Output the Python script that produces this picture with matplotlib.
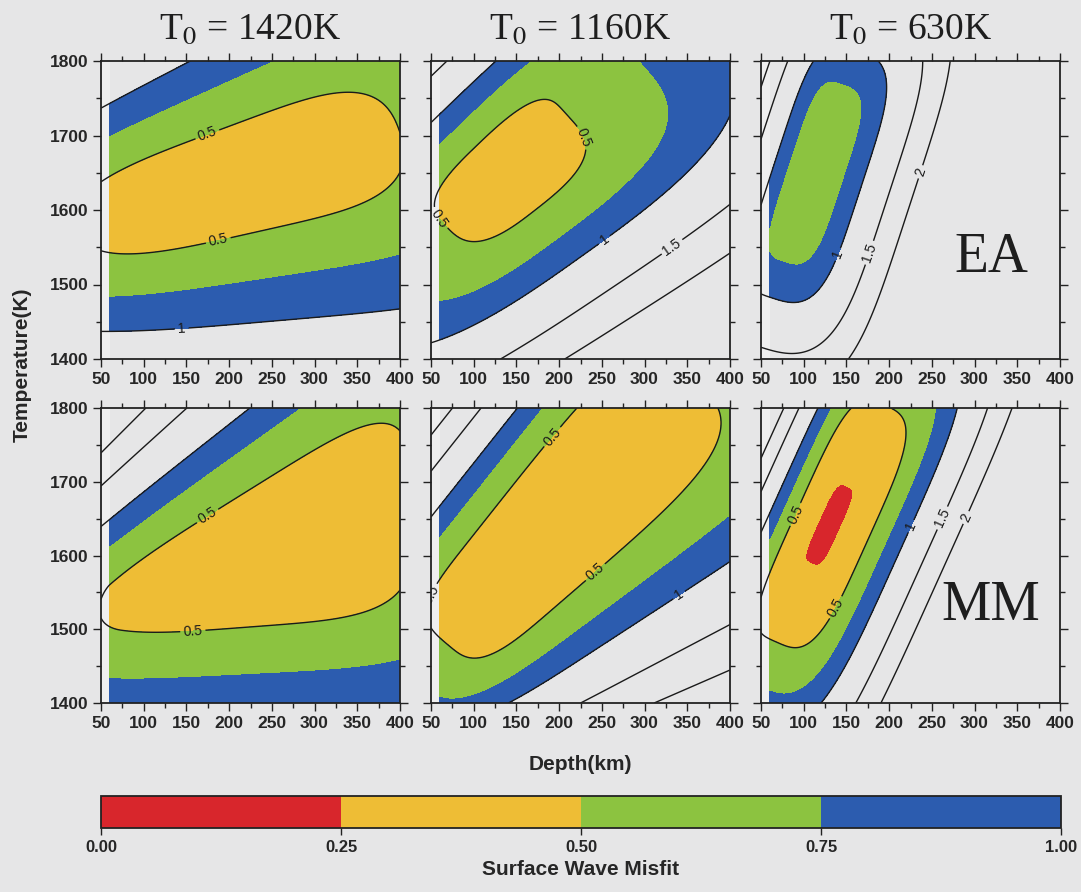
import numpy as np
import matplotlib
matplotlib.use("Agg")
import matplotlib.pyplot as plt
from matplotlib.colors import ListedColormap, BoundaryNorm
from matplotlib.cm import ScalarMappable

# Panel order: EA row (T0 = 1420, 1160, 630 K), then MM row
start_temps = [1420, 1160, 630]
models = ["EA", "MM"]

# Misfit surface parameters, one entry per panel.
# Valley centre, flank angles/widths/steepness (panel-normalised units),
# along-valley half lengths and the minimum misfit.
center_depth = [215, 130, 110, 225, 150, 130]        # km
center_temp = [1635, 1650, 1650, 1580, 1575, 1640]   # K
min_misfit = [0.30, 0.35, 0.52, 0.30, 0.30, 0.22]
angle_up = [15, 44, 72, 25, 52, 66]                  # deg
angle_dn = [17, 40, 72, 6, 48, 66]                   # deg
angle_along = [17, 42, 72, 0, 50, 66]                # deg
width_up = [0.453, 0.28, 0.13, 0.50, 0.344, 0.20]
power_up = [1.5, 1.7, 1.7, 1.8, 2.2, 2.0]
flare_up = [0.488, 0.0, 0.0, 0.6, 0.0, 0.0]
width_dn = [0.478, 0.39, 0.17, 0.49, 0.375, 0.25]
power_dn = [1.2, 1.8, 1.6, 1.33, 1.6, 1.7]
flare_dn = [0.446, 0.2, 0.0, 0.15, 0.7, 0.0]
length_lo = [1.05, 0.72, 0.441, 1.1, 0.62, 0.72]
length_hi = [1.04, 0.85, 0.441, 1.0, 1.65, 0.75]
power_along = [2.0, 1.4, 2.2, 2.0, 2.0, 2.0]

# Contour-label anchor points (depth, temperature) per panel
label_spots = [
    [(175, 1700), (190, 1545), (145, 1435)],
    [(221, 1694), (52, 1582), (249, 1566), (327, 1559)],
    [(154, 1534), (189, 1538), (240, 1650)],
    [(174, 1655), (158, 1488)],
    [(192, 1761), (245, 1574), (55, 1526), (339, 1549)],
    [(86, 1658), (137, 1530), (227, 1639), (260, 1652), (291, 1651)],
]

fill_levels = [0.0, 0.25, 0.50, 0.75, 1.00]
line_levels = [0.5, 1.0, 1.5, 2.0]
fill_colors = ["#d8262c", "#eebd35", "#8cc340", "#2c5caf"]
cbar_ticks = [0.0, 0.25, 0.50, 0.75, 1.00]

DEPTH_MIN, DEPTH_MAX = 50, 400
TEMP_MIN, TEMP_MAX = 1400, 1800
FILL_START = 60

BG = "#e6e6e7"


def misfit(dd, tt, i):
    x = (dd - DEPTH_MIN) / (DEPTH_MAX - DEPTH_MIN)
    y = (tt - TEMP_MIN) / (TEMP_MAX - TEMP_MIN)
    xc = (center_depth[i] - DEPTH_MIN) / (DEPTH_MAX - DEPTH_MIN)
    yc = (center_temp[i] - TEMP_MIN) / (TEMP_MAX - TEMP_MIN)
    dx, dy = x - xc, y - yc
    au, ad = np.radians(angle_up[i]), np.radians(angle_dn[i])
    am = np.radians(angle_along[i])
    t = dx * np.cos(am) + dy * np.sin(am)
    # flanks on either side of the valley, optionally widening along it
    wu = width_up[i] * np.clip(1 + flare_up[i] * t, 0.15, None)
    wd = width_dn[i] * np.clip(1 + flare_dn[i] * t, 0.15, None)
    s_up = np.clip(dy * np.cos(au) - dx * np.sin(au), 0, None)
    s_dn = np.clip(dx * np.sin(ad) - dy * np.cos(ad), 0, None)
    across = (s_up / wu) ** power_up[i] + (s_dn / wd) ** power_dn[i]
    L = np.where(t < 0, length_lo[i], length_hi[i])
    along = (np.abs(t) / L) ** power_along[i]
    v = np.sqrt(across ** 2 + along ** 2)
    m0 = min_misfit[i]
    return m0 + (1 - m0) * v


def fmt_level(v):
    return "%g" % v


plt.rcParams["font.family"] = ["Liberation Sans", "DejaVu Sans"]
plt.rcParams["mathtext.fontset"] = "stix"

W, H = 1081, 892
fig = plt.figure(figsize=(W / 100, H / 100), dpi=100, facecolor=BG)

col_left = [101, 431, 761]
row_top = [61, 408]
row_h = [298, 295]
panel_w = 299

depth_line = np.linspace(DEPTH_MIN, DEPTH_MAX, 351)
depth_fill = np.linspace(FILL_START, DEPTH_MAX, 341)
temps = np.linspace(TEMP_MIN, TEMP_MAX, 401)

cmap = ListedColormap(fill_colors)
norm = BoundaryNorm(fill_levels, cmap.N)

for r in range(2):
    for c in range(3):
        i = r * 3 + c
        ax = fig.add_axes([col_left[c] / W, 1 - (row_top[r] + row_h[r]) / H,
                           panel_w / W, row_h[r] / H])
        ax.set_facecolor(BG)
        ax.axvspan(DEPTH_MIN, FILL_START, color="#efefef", lw=0, zorder=0)

        Df, Tf = np.meshgrid(depth_fill, temps)
        ax.contourf(Df, Tf, misfit(Df, Tf, i), levels=fill_levels,
                    colors=fill_colors, zorder=1)
        Dl, Tl = np.meshgrid(depth_line, temps)
        cs = ax.contour(Dl, Tl, misfit(Dl, Tl, i), levels=line_levels,
                        colors="#1a1a1a", linewidths=1.0, zorder=2)
        ax.clabel(cs, fmt=fmt_level, fontsize=10, inline=True,
                  inline_spacing=3, manual=label_spots[i])

        ax.set_xlim(DEPTH_MIN, DEPTH_MAX)
        ax.set_ylim(TEMP_MIN, TEMP_MAX)
        ax.set_xticks(range(50, 401, 50))
        ax.set_xticks(range(75, 400, 50), minor=True)
        ax.set_yticks(range(1400, 1801, 100))
        ax.set_yticks(range(1450, 1800, 100), minor=True)
        ax.tick_params(which="both", direction="out", top=True, right=True,
                       color="#222222", width=1.0)
        ax.tick_params(which="major", length=6, labelsize=12.5, pad=3,
                       labelcolor="#262626")
        ax.tick_params(which="minor", length=3.5)
        for lab in ax.get_xticklabels() + ax.get_yticklabels():
            lab.set_fontweight("bold")
        if c > 0:
            ax.tick_params(labelleft=False)
        for sp in ax.spines.values():
            sp.set_linewidth(1.3)
            sp.set_color("#222222")
            sp.set_zorder(5)

        if c == 2:
            ax.text(0.77, 0.34 if r == 0 else 0.33, models[r],
                    transform=ax.transAxes, ha="center", va="center",
                    fontsize=40, family="Liberation Serif", color="#1e1e1e")

for c in range(3):
    fig.text((col_left[c] + panel_w / 2) / W, 1 - 30 / H,
             "T$_0$ = %dK" % start_temps[c], ha="center", va="center",
             fontsize=27, family="Liberation Serif", color="#1e1e1e")

fig.text(22 / W, 1 - 365 / H, "Temperature(K)", rotation=90, ha="center",
         va="center", fontsize=15, fontweight="bold", color="#262626")
fig.text(580 / W, 1 - 765 / H, "Depth(km)", ha="center", va="center",
         fontsize=15, fontweight="bold", color="#262626")

# Shared colour bar
cax = fig.add_axes([101 / W, 1 - 828 / H, 960 / W, 32 / H])
cb = fig.colorbar(ScalarMappable(norm=norm, cmap=cmap), cax=cax,
                  orientation="horizontal", ticks=cbar_ticks)
cb.ax.set_xticklabels(["%.2f" % v for v in cbar_ticks])
cb.outline.set_linewidth(1.3)
cb.outline.set_edgecolor("#222222")
cb.ax.tick_params(direction="out", length=5, width=1.0, labelsize=12,
                  labelcolor="#262626", color="#222222")
for lab in cb.ax.get_xticklabels():
    lab.set_fontweight("bold")
cb.set_label("Surface Wave Misfit", fontsize=15, fontweight="bold",
             color="#262626", labelpad=4)

fig.savefig("out.png", dpi=100, facecolor=BG)
